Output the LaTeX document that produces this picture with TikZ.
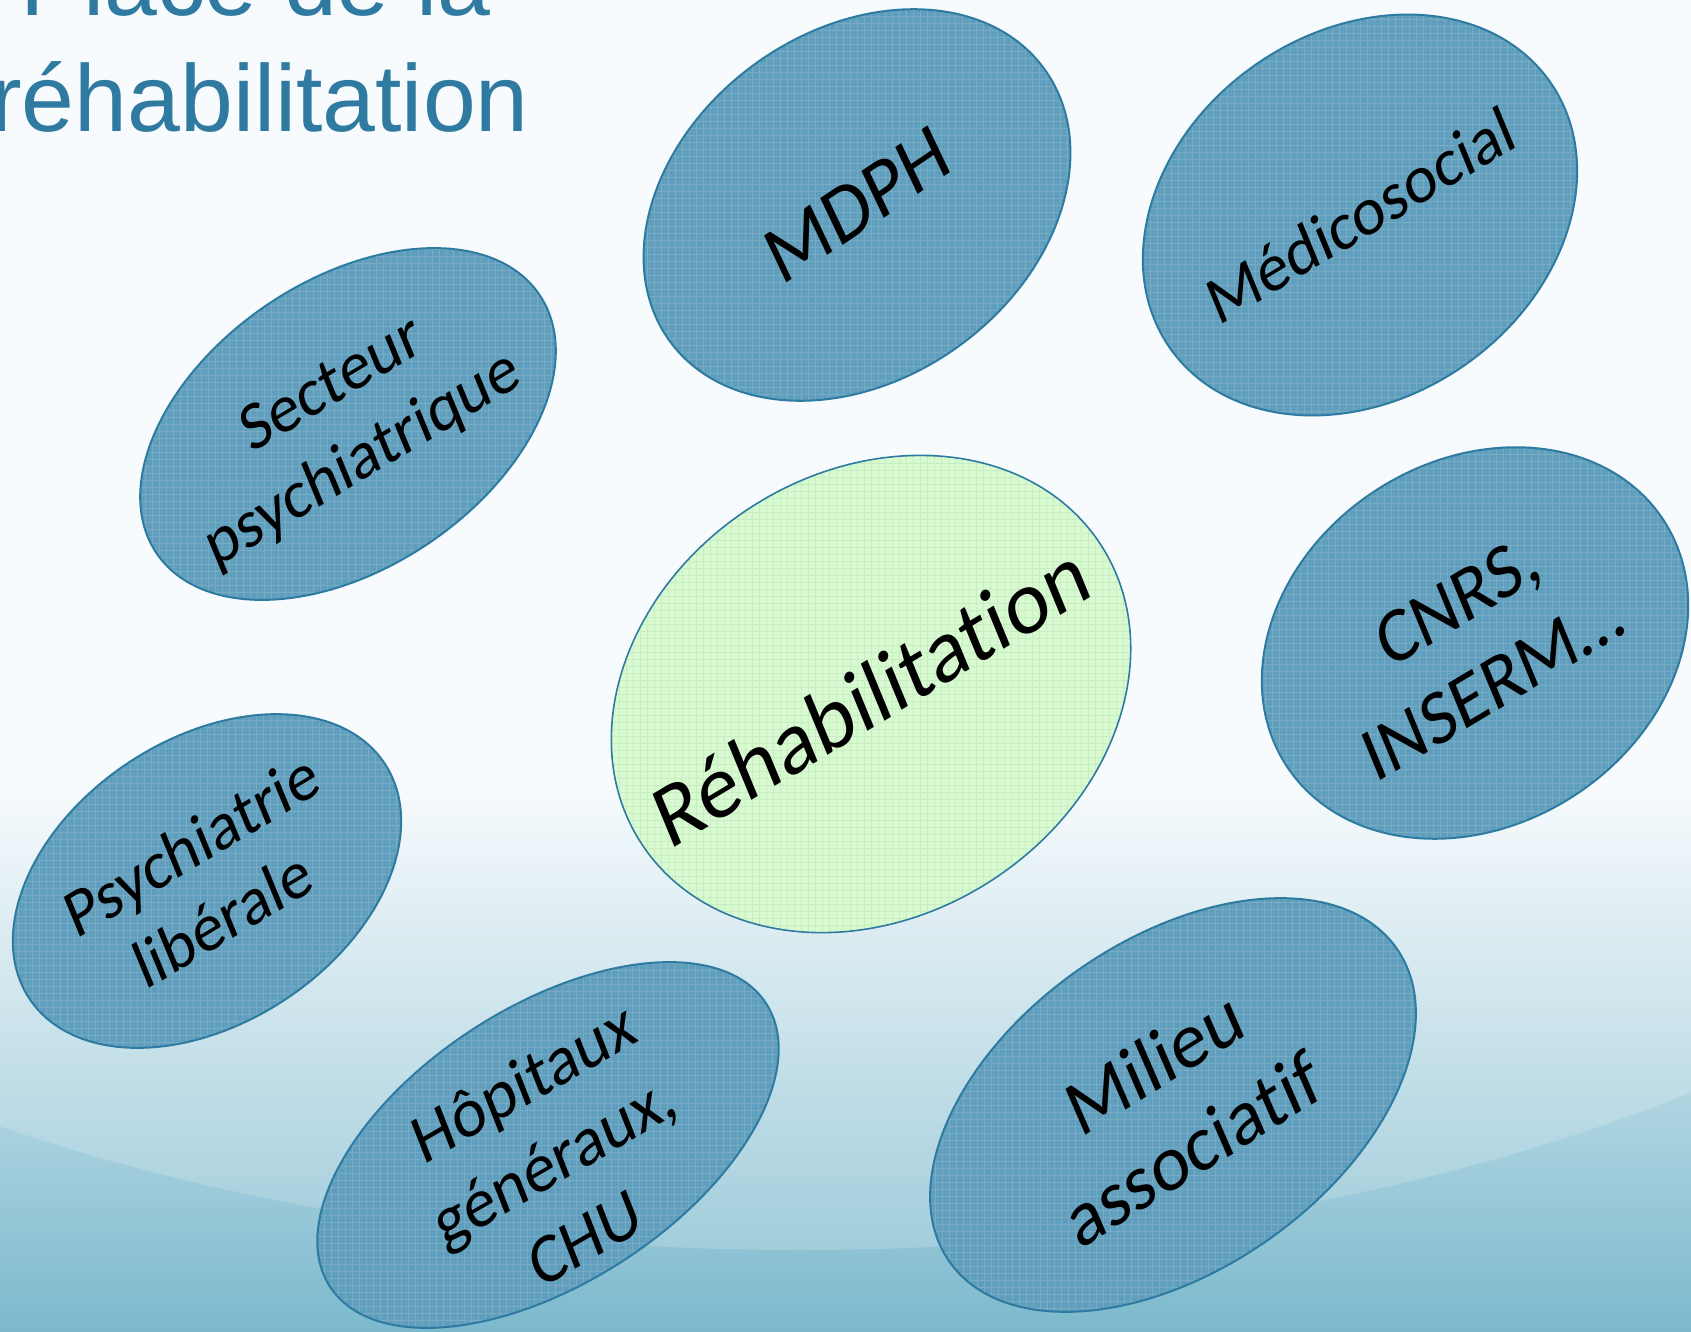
\documentclass[tikz,border=0pt]{standalone}
\usepackage{fontspec}
\setmainfont{Carlito}[Ligatures=NoCommon]
\newfontfamily\titlefont{Liberation Sans}
\usetikzlibrary{shapes.geometric}

\definecolor{bubblefill}{HTML}{5F9EBC}
\definecolor{bubbleline}{HTML}{2E7BA2}
\definecolor{bubblegrid}{HTML}{327EA5}
\definecolor{corefill}{HTML}{D8FAD1}
\definecolor{coregrid}{HTML}{C8EDC2}
\definecolor{titleblue}{HTML}{2F7AA1}
\definecolor{skytop}{HTML}{F7FBFD}
\definecolor{skybottom}{HTML}{7CB9CD}

\tikzset{
  % tilted oval with a fine square weave (weave kept upright)
  bubble/.style={ellipse, rotate=#1, draw=bubbleline, line width=2pt,
    fill=bubblefill, inner sep=0pt,
    path picture={
      \pgftransformresetnontranslations
      \draw[bubblegrid, line width=0.8pt] (-400pt,-400pt) grid[step=7pt] (400pt,400pt);
      \draw[white, opacity=0.35, line width=0.5pt, shift={(3.5pt,3.5pt)}] (-400pt,-400pt) grid[step=7pt] (400pt,400pt);
    }},
  core/.style={bubble=#1, fill=corefill, line width=1.6pt,
    path picture={
      \pgftransformresetnontranslations
      \draw[coregrid, line width=0.5pt] (-400pt,-400pt) grid[step=7pt] (400pt,400pt);
    }},
  tag/.style={rotate=#1, xslant=0.15, align=center, inner sep=0pt, text=black},
  titletext/.style={titleblue, font=\titlefont\fontsize{95}{116}\selectfont, inner sep=0pt},
}

\begin{document}
\begin{tikzpicture}[x=1pt, y=-1pt]
  \useasboundingbox (0,0) rectangle (1691,1331);

  % backdrop
  \fill[skytop] (0,0) rectangle (1691,1331);
  \shade[top color=skytop, bottom color=skybottom] (0,780) rectangle (1691,1331);
  \fill[white, opacity=0.18] (800,560) ellipse [x radius=1400, y radius=690];

  % heading, cut at the top edge
  \node[titletext, anchor=base west] (head1) at (20,15) {Place de la};
  \node[titletext, anchor=base east] (head2) at (529,131) {réhabilitation};

  % partners around the centre
  \node[bubble=36, minimum width=463pt, minimum height=348pt] (mdph) at (857,205) {};
  \node[tag=34, font=\fontsize{80}{98}\selectfont] (mdphtxt) at (mdph) {MDPH};

  \node[bubble=35, minimum width=464pt, minimum height=366pt] (medico) at (1360,215) {};
  \node[tag=31, font=\fontsize{66}{80}\selectfont] (medicotxt) at (medico) {Médicosocial};

  \node[bubble=34, minimum width=462pt, minimum height=288pt] (secteur) at (348,424) {};
  \node[tag=31, font=\fontsize{66}{80}\selectfont] (secteurtxt) at (secteur) {Secteur\\psychiatrique};

  \node[bubble=33, minimum width=450pt, minimum height=364pt] (cnrs) at (1475,643) {};
  \node[tag=31, font=\fontsize{75}{91}\selectfont] (cnrstxt) at (cnrs) {CNRS,\\INSERM…};

  \node[bubble=33.5, minimum width=426pt, minimum height=284pt] (liberal) at (207,881) {};
  \node[tag=31, font=\fontsize{66}{80}\selectfont] (liberaltxt) at (liberal) {Psychiatrie\\libérale};

  \node[bubble=33, minimum width=520pt, minimum height=276pt] (chu) at (548,1145) {};
  \node[tag=30, font=\fontsize{68}{83}\selectfont] (chutxt) at ([shift={(6,14)}]chu.center) {Hôpitaux\\généraux,\\CHU};

  \node[bubble=35, minimum width=546pt, minimum height=330pt] (asso) at (1173,1105) {};
  \node[tag=32, font=\fontsize{77}{94}\selectfont] (assotxt) at (asso) {Milieu\\associatif};

  % centre
  \node[core=33, minimum width=548pt, minimum height=444pt] (rehab) at (871,694) {};
  \node[tag=31, font=\fontsize{88}{107}\selectfont] (rehabtxt) at (rehab) {Réhabilitation};
\end{tikzpicture}
\end{document}
